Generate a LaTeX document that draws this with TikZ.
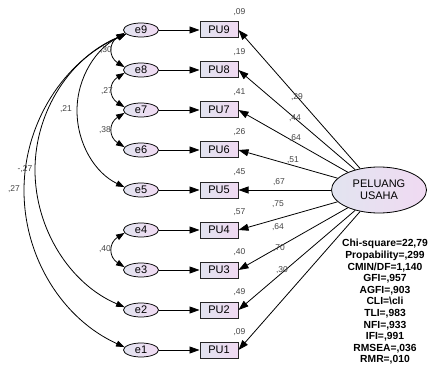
\documentclass[tikz,border=0pt]{standalone}
\usepackage{fontspec}
\setmainfont{Liberation Sans}
\usetikzlibrary{arrows.meta,shapes.geometric,calc}
\definecolor{fillL}{RGB}{226,228,240}
\definecolor{fillR}{RGB}{240,218,242}
\definecolor{labgray}{RGB}{70,70,70}
\begin{document}
\begin{tikzpicture}[x=1pt,y=1pt,
  obs/.style={draw=black!85, line width=1pt, minimum width=38pt, minimum height=16pt, inner sep=0pt,
    left color=fillL, right color=fillR, font=\fontsize{11}{12}\selectfont},
  err/.style={ellipse, draw=black, line width=0.75pt, minimum width=35pt, minimum height=14pt, inner sep=0pt,
    left color=fillL, right color=fillR, font=\fontsize{11}{12}\selectfont},
  lat/.style={ellipse, draw=black, line width=0.8pt, minimum width=95pt, minimum height=46pt, inner sep=0pt,
    left color=fillL, right color=fillR, align=center, font=\fontsize{11}{12}\selectfont},
  lab/.style={text=labgray, font=\fontsize{8.5}{9}\selectfont, inner sep=0pt},
  reg/.style={line width=0.8pt, -{Triangle[length=10pt,width=7pt]}},
  cov/.style={line width=0.8pt, {Triangle[length=8.5pt,width=6pt]}-{Triangle[length=8.5pt,width=6pt]}},
  fitstat/.style={font=\bfseries\fontsize{10.3}{11.6}\selectfont, align=center, inner sep=0pt},
]
\useasboundingbox (0,0) rectangle (430,367);
\fill[white] (0,0) rectangle (430,367);

\foreach \i/\y/\v in {9/337/{,09},8/297/{,19},7/257/{,41},6/217/{,26},5/177/{,45},4/137/{,57},3/97/{,40},2/57/{,49},1/17/{,09}}{
  \node[err] (e\i) at (141,\y) {e\i};
  \node[obs] (PU\i) at (219,\y) {PU\i};
  \draw[reg] (e\i) -- (PU\i);
  \node[lab] (v\i) at ([shift={(1,9)}]PU\i.north east) {\v};
}

\node[lat] (P) at (379,177) {PELUANG\\USAHA};

\foreach \i in {9,8,7,6,5,4,3,2,1}{
  \draw[reg] (P) -- (PU\i.east);
}

% loading labels
\node[lab] (l9) at (297,270) {,29};
\node[lab] (l8) at (295,249) {,44};
\node[lab] (l7) at (295,229) {,64};
\node[lab] (l6) at (293,207) {,51};
\node[lab] (l5) at (279,185) {,67};
\node[lab] (l4) at (278,163) {,75};
\node[lab] (l3) at (278,140) {,64};
\node[lab] (l2) at (279,119) {,70};
\node[lab] (l1) at (282,97) {,30};

% short covariances
\draw[cov] (e9.190) .. controls +(-16,-10) and +(-16,10) .. (e8.170);
\draw[cov] (e8.190) .. controls +(-16,-10) and +(-16,10) .. (e7.170);
\draw[cov] (e7.190) .. controls +(-16,-10) and +(-16,10) .. (e6.170);
\draw[cov] (e4.190) .. controls +(-16,-10) and +(-16,10) .. (e3.170);
\node[lab] (c98) at (106,317) {,30};
\node[lab] (c87) at (107,276) {,27};
\node[lab] (c76) at (105,237) {,38};
\node[lab] (c43) at (105,118) {,40};

% long covariances
\coordinate (m5) at (77,256.4);
\coordinate (m2) at (35,197);
\coordinate (m1) at (24,176.5);
\draw[cov] (e9.195) .. controls (96.3,319.4) and (77,289.5) .. (m5) .. controls (77,223.3) and (95,193.9) .. (e5.170);
\draw[cov] (e9.195) .. controls (71,310.3) and (35,256.5) .. (m2) .. controls (35,137.7) and (70.3,82.8) .. (e2.170);
\draw[cov] (e9.195) .. controls (64,305.7) and (24,244.3) .. (m1) .. controls (24,108.7) and (63.1,47.7) .. (e1.170);
\node[lab] (c95) at (66,258) {,21};
\node[lab] (c92) at (25,198) {-,27};
\node[lab] (c91) at (14,178) {,27};

\node[fitstat] (fit) at (385,65) {Chi-square=22,79\\Propability=,299\\CMIN/DF=1,140\\GFI=,957\\AGFI=,903\\CLI=\textbackslash cli\\TLI=,983\\NFI=,933\\IFI=,991\\RMSEA=,036\\RMR=,010};
\end{tikzpicture}
\end{document}
